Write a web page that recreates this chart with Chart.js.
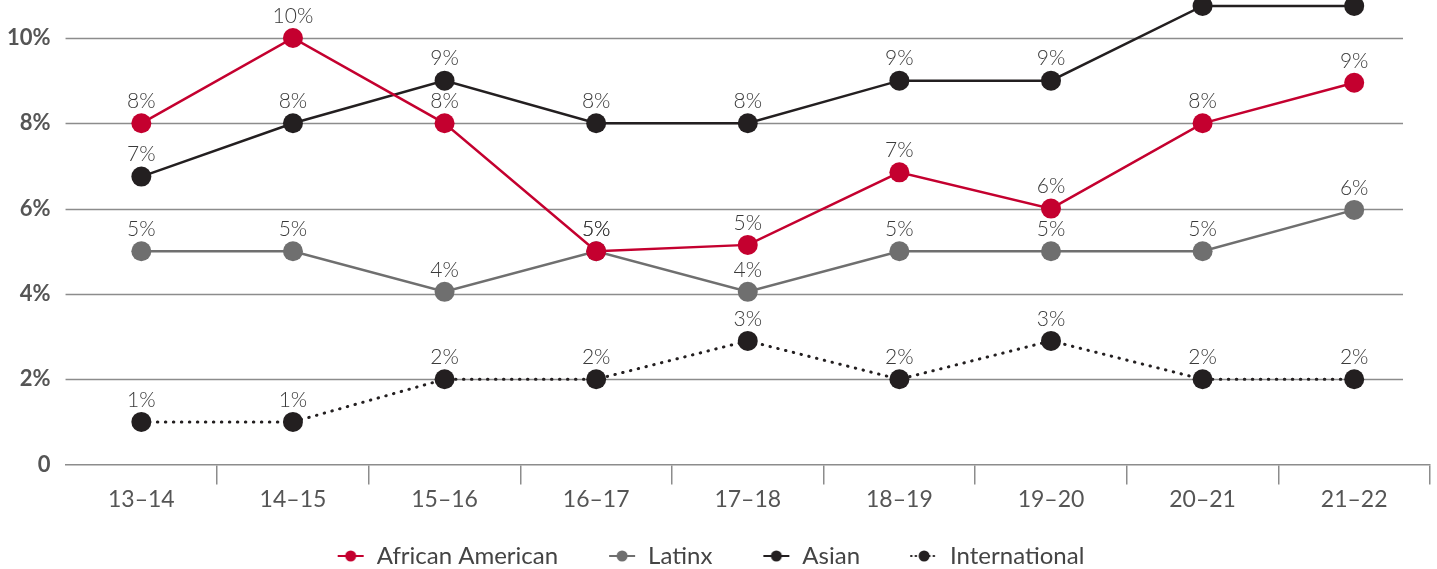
<!DOCTYPE html>
<html>
<head>
<meta charset="utf-8">
<script src="https://cdn.jsdelivr.net/npm/chart.js@4.4.1/dist/chart.umd.min.js"></script>
<style>
  html, body { margin: 0; padding: 0; background: #fff; }
  #wrap { width: 1437px; height: 569px; }
</style>
</head>
<body>
<div id="wrap"><canvas id="chart" width="1437" height="569"></canvas></div>
<script>
// school years
const years = ['13–14', '14–15', '15–16', '16–17', '17–18', '18–19', '19–20', '20–21', '21–22'];

// share of faculty, in percent
const africanAmerican = [8, 10, 8, 5, 5.15, 6.85, 6, 8, 8.95];
const latinx = [5, 5, 4.05, 5, 4.05, 5, 5, 5, 5.97];
const asian = [6.75, 8, 9, 8, 8, 9, 9, 10.75, 10.75];
const international = [1, 1, 2, 2, 2.9, 2, 2.9, 2, 2];

const yTicks = [0, 2, 4, 6, 8, 10];

const RED = '#c4002f';
const GRAY = '#6f6f6f';
const BLACK = '#231f20';
const GRID = '#8c8c8c';
const FONT = 'Lato, "Open Sans", sans-serif';

// legend swatch: blank lead-in, then a short line with a dot
const LEAD = 21;
function swatch(color, dotted) {
    let c = document.createElement('canvas');
    c.width = LEAD + 28; c.height = 14;
    let ctx = c.getContext('2d');
    ctx.translate(LEAD, 0);
    ctx.strokeStyle = color;
    ctx.fillStyle = color;
    ctx.lineWidth = 2;
    if (dotted) {
        ctx.lineCap = 'round';
        ctx.setLineDash([0.5, 4]);
        ctx.lineWidth = 2.2;
    }
    ctx.beginPath();
    ctx.moveTo(1, 7); ctx.lineTo(27, 7);
    ctx.stroke();
    ctx.beginPath();
    ctx.arc(14, 7, 5.5, 0, Math.PI * 2);
    ctx.fill();
    return c;
}

function series(label, data, color, dotted) {
    return {
        label: label,
        data: data,
        borderColor: color,
        backgroundColor: color,
        pointBackgroundColor: color,
        pointBorderWidth: 0,
        pointRadius: 10,
        pointHoverRadius: 10,
        borderWidth: dotted ? 3 : 2.5,
        borderDash: dotted ? [0.5, 7.5] : [],
        borderCapStyle: dotted ? 'round' : 'butt',
        tension: 0,
        clip: false,
        legendSwatch: swatch(color, dotted)
    };
}

// horizontal grid lines, stopping short of the axis end
const gridPlugin = {
    id: 'shortGrid',
    beforeDatasetsDraw(chart) {
        let ctx = chart.ctx;
        let y = chart.scales.y;
        let area = chart.chartArea;
        ctx.save();
        ctx.strokeStyle = GRID;
        ctx.lineWidth = 1.5;
        yTicks.forEach(v => {
            if (v === 0) return;
            let py = Math.round(y.getPixelForValue(v)) + 0.5;
            ctx.beginPath();
            ctx.moveTo(area.left, py);
            ctx.lineTo(area.right - 27, py);
            ctx.stroke();
        });
        ctx.restore();
    }
};

// value labels above every point
const valueLabels = {
    id: 'valueLabels',
    afterDatasetsDraw(chart) {
        let ctx = chart.ctx;
        ctx.save();
        ctx.font = '300 21px ' + FONT;
        ctx.fillStyle = '#3a3a3a';
        ctx.textAlign = 'center';
        ctx.textBaseline = 'middle';
        chart.data.datasets.forEach((ds, i) => {
            let meta = chart.getDatasetMeta(i);
            meta.data.forEach((pt, j) => {
                ctx.fillText(Math.round(ds.data[j]) + '%', pt.x, pt.y - 22);
            });
        });
        ctx.restore();
    }
};

new Chart(document.getElementById('chart'), {
    type: 'line',
    data: {
        labels: years,
        datasets: [
            series('African American', africanAmerican, RED, false),
            series('Latinx', latinx, GRAY, false),
            series('Asian', asian, BLACK, false),
            series('International', international, BLACK, true)
        ]
    },
    options: {
        responsive: false,
        animation: false,
        events: [],
        layout: { autoPadding: false, padding: { top: 0, right: 7, left: -30, bottom: -9 } },
        scales: {
            x: {
                offset: true,
                grid: {
                    offset: true,
                    drawOnChartArea: false,
                    drawTicks: true,
                    tickLength: 20,
                    lineWidth: 1.5,
                    color: ctx => ctx.index === 0 ? 'rgba(0,0,0,0)' : GRID
                },
                border: { display: true, color: GRID, width: 1.5 },
                ticks: {
                    color: '#555',
                    font: { family: FONT, size: 23, lineHeight: 0.8 },
                    padding: 6
                }
            },
            y: {
                min: 0,
                max: 10.89,
                afterBuildTicks: axis => { axis.ticks = yTicks.map(v => ({ value: v })); },
                afterFit: axis => { axis.paddingTop = 0; axis.width += 30; },
                grid: { display: false },
                border: { display: false },
                ticks: {
                    color: '#555',
                    font: { family: FONT, size: 22, weight: 'bold' },
                    padding: 7,
                    callback: v => v === 0 ? '0' : v + '%'
                }
            }
        },
        plugins: {
            tooltip: { enabled: false },
            legend: {
                position: 'bottom',
                labels: {
                    usePointStyle: true,
                    pointStyleWidth: LEAD + 28,
                    color: '#444',
                    font: { family: FONT, size: 24 },
                    padding: 29,
                    generateLabels: chart => chart.data.datasets.map((ds, i) => ({
                        text: ds.label,
                        pointStyle: ds.legendSwatch,
                        fillStyle: ds.borderColor,
                        strokeStyle: ds.borderColor,
                        lineWidth: 0,
                        fontColor: '#444',
                        datasetIndex: i
                    }))
                }
            }
        }
    },
    plugins: [gridPlugin, valueLabels]
});
</script>
</body>
</html>
